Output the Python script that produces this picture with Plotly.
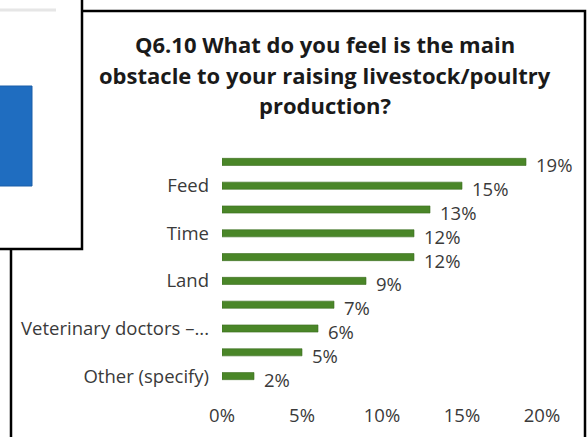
import plotly.graph_objects as go

W, H = 587, 437

# Survey answers, listed top to bottom; only every other category name is printed
categories = ["", "Feed", "", "Time", "", "Land", "", "Veterinary doctors –...", "", "Other (specify)"]
shares = [19, 15, 13, 12, 12, 9, 7, 6, 5, 2]
x_ticks = [0, 5, 10, 15, 20]
x_tick_labels = ["0%", "5%", "10%", "15%", "20%"]
title_lines = [
    "Q6.10 What do you feel is the main",
    "obstacle to your raising livestock/poultry",
    "production?",
]

BAR_GREEN = "#4A8628"
TEXT = "#3A3A3A"
FONT = "Open Sans"
LABEL_SIZE = 18.5


def fx(px):
    return px / W


def fy(py):
    return 1 - py / H


positions = list(range(len(shares)))
labelled = [(p, c) for p, c in zip(positions, categories) if c]

fig = go.Figure()
fig.add_trace(go.Bar(
    x=shares,
    y=positions,
    orientation="h",
    width=0.3,
    marker=dict(color=BAR_GREEN, line=dict(color="#3A6B1F", width=0.6)),
    hoverinfo="skip",
))

annotations = []
for p, v in zip(positions, shares):
    annotations.append(dict(
        x=v, y=p, xref="x", yref="y", text=f"{v}%", showarrow=False,
        xanchor="left", yanchor="middle", xshift=8, yshift=-3,
        font=dict(family=FONT, size=LABEL_SIZE, color=TEXT),
    ))

title_centres = [44, 75, 105]
for line, yc in zip(title_lines, title_centres):
    annotations.append(dict(
        x=fx(325), y=fy(yc), xref="paper", yref="paper", text=f"<b>{line}</b>",
        showarrow=False, xanchor="center", yanchor="middle",
        font=dict(family=FONT, size=22, color="#1A1A1A"),
    ))

shapes = [
    # frame around this chart
    dict(type="rect", xref="paper", yref="paper", x0=fx(11), y0=fy(445), x1=fx(585), y1=fy(11),
         line=dict(color="black", width=2.5), fillcolor="rgba(0,0,0,0)", layer="above"),
    # neighbouring panel overlapping the top-left corner
    dict(type="rect", xref="paper", yref="paper", x0=fx(-6), y0=fy(249), x1=fx(82), y1=fy(-6),
         line=dict(color="black", width=2.5), fillcolor="white", layer="above"),
    dict(type="rect", xref="paper", yref="paper", x0=fx(-2), y0=fy(186), x1=fx(32), y1=fy(86),
         line=dict(color="#1A5FA8", width=1), fillcolor="#1F6DC0", layer="above"),
    dict(type="line", xref="paper", yref="paper", x0=fx(0), y0=fy(10), x1=fx(56), y1=fy(10),
         line=dict(color="#E6E6E6", width=3), layer="above"),
]

fig.update_layout(
    width=W, height=H,
    margin=dict(l=0, r=0, t=0, b=0),
    paper_bgcolor="white", plot_bgcolor="white",
    showlegend=False,
    template="none",
    xaxis=dict(
        domain=[fx(222), fx(542)], range=[0, 20],
        tickvals=x_ticks, ticktext=x_tick_labels,
        showgrid=False, zeroline=False, showline=False, ticks="",
        ticklabelstandoff=14, automargin=False,
        tickfont=dict(family=FONT, size=LABEL_SIZE, color=TEXT),
    ),
    yaxis=dict(
        domain=[fy(388), fy(150)], range=[len(shares) - 0.5, -0.5],
        tickvals=[p for p, _ in labelled], ticktext=[c for _, c in labelled],
        showgrid=False, zeroline=False, showline=False, ticks="",
        ticklabelstandoff=12, automargin=False,
        tickfont=dict(family=FONT, size=LABEL_SIZE, color=TEXT),
    ),
    annotations=annotations,
    shapes=shapes,
)

fig.write_html("out.html")
